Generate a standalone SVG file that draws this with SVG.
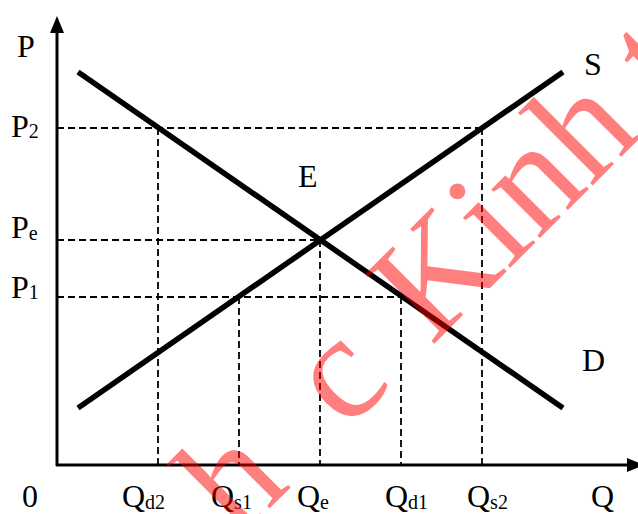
<svg xmlns="http://www.w3.org/2000/svg" width="638" height="514" viewBox="0 0 638 514">
<style>
.t{font-size:32px;fill:#000}
.s{font-size:20px}
.axis{stroke:#000;stroke-width:3;fill:none}
.curve{stroke:#000;stroke-width:5.5;fill:none}
.dash{stroke:#000;stroke-width:1.8;stroke-dasharray:7 4;fill:none}
.wm{font-size:150px;fill:#ff0000;fill-opacity:0.5}
.ser{font-family:"Liberation Serif",Tinos,"Times New Roman",Times,"Noto Serif","DejaVu Serif",FreeSerif,serif}
</style>
<rect width="638" height="514" fill="#fff"/>
<g id="connectors">
<path class="dash" d="M57 128H482M57 240H320M57 297H401"/>
<path class="dash" d="M158 128V465M239 297V465M320 240V465M401 297V465M482 128V465"/>
<path class="axis" d="M57 466V30M56 465H629"/>
<polygon points="57,16 50,33 64,33" fill="#000"/>
<polygon points="644,465 627,458 627,472" fill="#000"/>
</g>
<g id="demand"><line class="curve" x1="78" y1="72" x2="563" y2="408"/></g>
<g id="supply"><line class="curve" x1="78" y1="408" x2="563" y2="72"/></g>
<g id="labels" class="ser">
<text class="t" x="17" y="57">P</text>
<text class="t" x="11" y="137">P<tspan class="s" dy="1">2</tspan></text>
<text class="t" x="11" y="238">P<tspan class="s" dy="2">e</tspan></text>
<text class="t" x="11" y="298">P<tspan class="s" dy="1">1</tspan></text>
<text class="t" x="298" y="187">E</text>
<text class="t" x="584" y="75">S</text>
<text class="t" x="582" y="371">D</text>
<text class="t" x="22" y="507">0</text>
<text class="t" x="122" y="507">Q<tspan class="s" dy="2">d2</tspan></text>
<text class="t" x="211" y="507">Q<tspan class="s" dy="2">s1</tspan></text>
<text class="t" x="297" y="507">Q<tspan class="s" dy="2">e</tspan></text>
<text class="t" x="385" y="507">Q<tspan class="s" dy="2">d1</tspan></text>
<text class="t" x="467" y="507">Q<tspan class="s" dy="2">s2</tspan></text>
<text class="t" x="591" y="507">Q</text>
</g>
<g id="watermark" class="ser">
<text class="wm" transform="translate(239,539) rotate(-45)"><tspan x="0" y="0">h</tspan><tspan x="152" y="0">c</tspan><tspan x="272" y="0">Kinh</tspan><tspan x="610" y="0">t</tspan></text>
</g>
</svg>
